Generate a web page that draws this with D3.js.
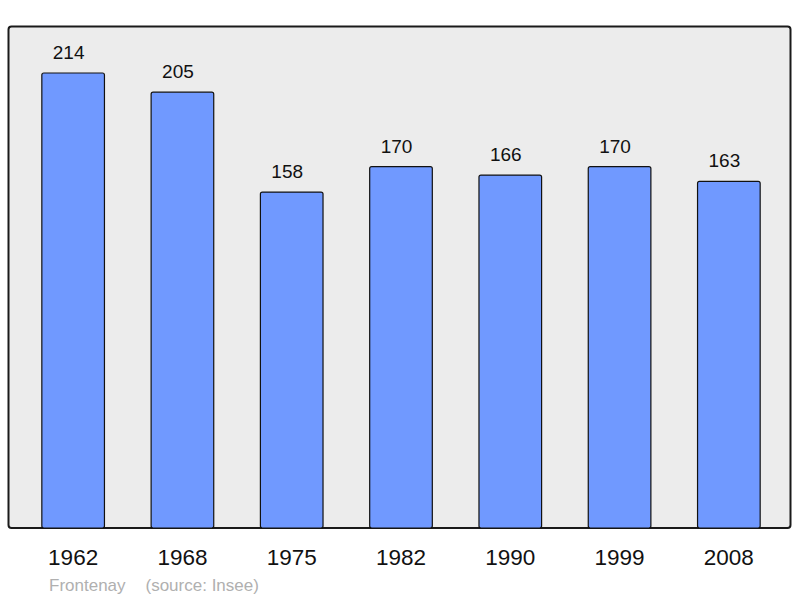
<!DOCTYPE html>
<html><head><meta charset="utf-8">
<script src="https://cdn.jsdelivr.net/npm/d3@7"></script>
<style>body{margin:0;background:#fff}svg{display:block}</style>
</head><body>
<script>
const years = ["1962","1968","1975","1982","1990","1999","2008"];
const population = [214,205,158,170,166,170,163];
const commune = "Frontenay";
const source = "(source: Insee)";

const W = 800, H = 598;
const svg = d3.select("body").append("svg").attr("width", W).attr("height", H);

svg.append("rect").attr("x", 8.5).attr("y", 26.5).attr("width", 782).attr("height", 501.5)
  .attr("rx", 3).attr("fill", "#ececec").attr("stroke", "#1a1a1a").attr("stroke-width", 2);

const x = d3.scaleBand().domain(years).range([18.5, 783.5]).paddingInner(0.427).paddingOuter(0.2135);
const y = d3.scaleLinear().domain([0, 214]).range([528, 73]);

svg.selectAll("rect.bar").data(population).join("rect").attr("class","bar")
  .attr("x", (d,i) => x(years[i]))
  .attr("y", d => y(d))
  .attr("width", x.bandwidth())
  .attr("height", d => y(0) - y(d))
  .attr("rx", 2)
  .attr("fill", "#7099ff").attr("stroke", "#111").attr("stroke-width", 1.2);

svg.selectAll("text.val").data(population).join("text").attr("class","val")
  .attr("x", (d,i) => x(years[i]) + x.bandwidth()/2 - 4.5)
  .attr("y", d => y(d) - 14)
  .attr("text-anchor","middle")
  .attr("font-family","Liberation Sans, Arial, sans-serif").attr("font-size", 19)
  .attr("fill","#111").text(d => d);

svg.selectAll("text.yr").data(years).join("text").attr("class","yr")
  .attr("x", d => x(d) + x.bandwidth()/2)
  .attr("y", 564.5)
  .attr("text-anchor","middle")
  .attr("font-family","Liberation Sans, Arial, sans-serif").attr("font-size", 22.5)
  .attr("fill","#111").text(d => d);

svg.append("text").attr("x", 49).attr("y", 590.5)
  .attr("font-family","Liberation Sans, Arial, sans-serif").attr("font-size", 17)
  .attr("fill","#b0b0b0").text(commune);
svg.append("text").attr("x", 145.5).attr("y", 590.5)
  .attr("font-family","Liberation Sans, Arial, sans-serif").attr("font-size", 17)
  .attr("fill","#b0b0b0").text(source);
</script>
</body></html>
